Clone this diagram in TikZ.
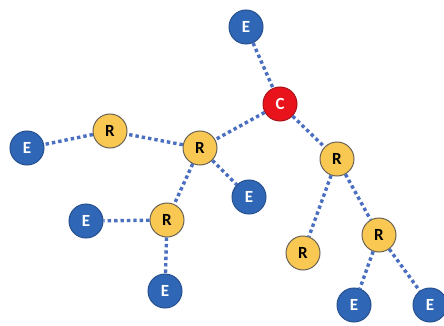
\documentclass[tikz,border=0pt]{standalone}
\usepackage{fontspec}
\setmainfont{Carlito}
\definecolor{eblue}{HTML}{2F66B5}
\definecolor{eborder}{HTML}{27508F}
\definecolor{ryellow}{HTML}{F9C852}
\definecolor{rborder}{HTML}{6B6455}
\definecolor{cred}{HTML}{E8131B}
\definecolor{cborder}{HTML}{A8141A}
\definecolor{linkblue}{HTML}{4A6FC0}
\begin{document}
\begin{tikzpicture}[x=1pt,y=-1pt,
  base/.style={circle,minimum size=34pt,inner sep=0pt,line width=1pt,font=\bfseries\fontsize{17}{17}\selectfont},
  endnode/.style={base,fill=eblue,draw=eborder,text=white},
  relay/.style={base,fill=ryellow,draw=rborder,text=black},
  coord/.style={base,fill=cred,draw=cborder,text=white},
  link/.style={draw=linkblue,line width=3.4pt,dash pattern=on 3.4pt off 3pt}]
\clip (0,0) rectangle (444,326);
\fill[white] (0,0) rectangle (444,326);

% nodes
\node[coord]   (c)   at (280,104) {C};
\node[endnode] (e1)  at (246,27)  {E};
\node[relay]   (r1)  at (200,148) {R};
\node[relay]   (r2)  at (110,131) {R};
\node[endnode] (e2)  at (27,148)  {E};
\node[endnode] (e3)  at (249,197) {E};
\node[relay]   (r3)  at (167,220) {R};
\node[endnode] (e4)  at (86,221)  {E};
\node[endnode] (e5)  at (165,291) {E};
\node[relay]   (r4)  at (337,159) {R};
\node[relay]   (r5)  at (303,253) {R};
\node[relay]   (r6)  at (379,235) {R};
\node[endnode] (e6)  at (354,305) {E};
\node[endnode] (e7)  at (430,305) {E};

% links
\draw[link] (e1) -- (c);
\draw[link] (c) -- (r1);
\draw[link] (c) -- (r4);
\draw[link] (r1) -- (r2);
\draw[link] (r2) -- (e2);
\draw[link] (r1) -- (e3);
\draw[link] (r1) -- (r3);
\draw[link] (r3) -- (e4);
\draw[link] (r3) -- (e5);
\draw[link] (r4) -- (r5);
\draw[link] (r4) -- (r6);
\draw[link] (r6) -- (e6);
\draw[link] (r6) -- (e7);
\end{tikzpicture}
\end{document}
